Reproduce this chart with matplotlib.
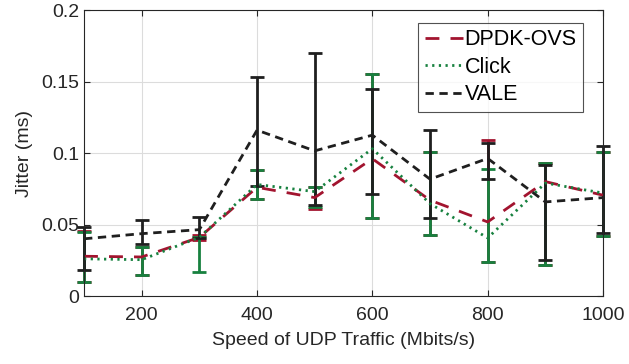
import matplotlib.pyplot as plt
from matplotlib.lines import Line2D

plt.switch_backend('Agg')

plt.rcParams['font.family'] = ['Liberation Sans', 'DejaVu Sans']

# velocidades de trafego UDP
speed = [100, 200, 300, 400, 500, 600, 700, 800, 900, 1000]

# DPDK-OVS
dpdk = [0.0278, 0.0273, 0.041, 0.076, 0.0688, 0.096, 0.067, 0.0518, 0.080, 0.0705]
dpdk_lo = [0.0098, 0.015, 0.039, 0.0677, 0.061, 0.0546, 0.043, 0.0238, 0.022, 0.042]
dpdk_hi = [0.0455, 0.034, 0.043, 0.088, 0.076, 0.155, 0.101, 0.109, 0.093, 0.101]

# Click
click = [0.026, 0.0254, 0.041, 0.078, 0.073, 0.103, 0.0646, 0.0406, 0.079, 0.072]
click_lo = [0.0098, 0.015, 0.0168, 0.0677, 0.062, 0.0546, 0.043, 0.0238, 0.022, 0.042]
click_hi = [0.0445, 0.034, 0.041, 0.088, 0.076, 0.155, 0.101, 0.089, 0.093, 0.101]

# VALE
vale = [0.040, 0.0436, 0.0464, 0.116, 0.1015, 0.1125, 0.0817, 0.0962, 0.0658, 0.0688]
vale_lo = [0.018, 0.0366, 0.0406, 0.077, 0.0637, 0.071, 0.0548, 0.0817, 0.025, 0.0443]
vale_hi = [0.048, 0.053, 0.055, 0.153, 0.170, 0.1447, 0.116, 0.107, 0.0915, 0.105]

VERMELHO = '#A2142F'
VERDE = '#17813F'
PRETO = '#1f1f1f'


def barras(y, lo, hi):
    return [[a - b for a, b in zip(y, lo)], [b - a for a, b in zip(y, hi)]]


fig = plt.figure(figsize=(6.29, 3.64), dpi=100)
ax = fig.add_axes([0.1336, 0.1868, 0.8251, 0.7857])

series = [
    (dpdk, dpdk_lo, dpdk_hi, VERMELHO, (0, (5, 4)), 'DPDK-OVS'),
    (click, click_lo, click_hi, VERDE, (0, (0.8, 1.6)), 'Click'),
    (vale, vale_lo, vale_hi, PRETO, (0, (3, 2)), 'VALE'),
]
handles = []
for y, lo, hi, cor, estilo, nome in series:
    linha = ax.errorbar(speed, y, yerr=barras(y, lo, hi), color=cor, lw=2,
                        elinewidth=2, capsize=5, capthick=2, clip_on=False)
    linha[0].set_linestyle(estilo)
    handles.append(Line2D([], [], color=cor, lw=2, linestyle=estilo, label=nome))

ax.set_xlim(100, 1000)
ax.set_ylim(0, 0.2)
ax.set_xticks([200, 400, 600, 800, 1000])
ax.set_yticks([0, 0.05, 0.1, 0.15, 0.2])
ax.set_yticklabels(['0', '0.05', '0.1', '0.15', '0.2'])
ax.tick_params(direction='in', labelsize=14, colors='#262626', length=4,
               top=True, right=True)
ax.tick_params(axis='x', pad=8)
ax.grid(True, color='#dcdcdc', linewidth=0.8)
ax.set_axisbelow(True)
for s in ax.spines.values():
    s.set_color('#262626')
    s.set_linewidth(0.8)

ax.set_xlabel('Speed of UDP Traffic (Mbits/s)', fontsize=14, color='#262626', labelpad=6)
ax.set_ylabel('Jitter (ms)', fontsize=14, color='#262626', labelpad=6)

leg = ax.legend(handles=handles, loc='upper right', bbox_to_anchor=(0.962, 0.955),
                fontsize=15.5, frameon=True, fancybox=False, edgecolor='#262626',
                handlelength=1.75, handletextpad=0.1, borderpad=0.3,
                labelspacing=0.3, borderaxespad=0)
leg.get_frame().set_linewidth(0.8)

fig.savefig('out.png', dpi=100)
